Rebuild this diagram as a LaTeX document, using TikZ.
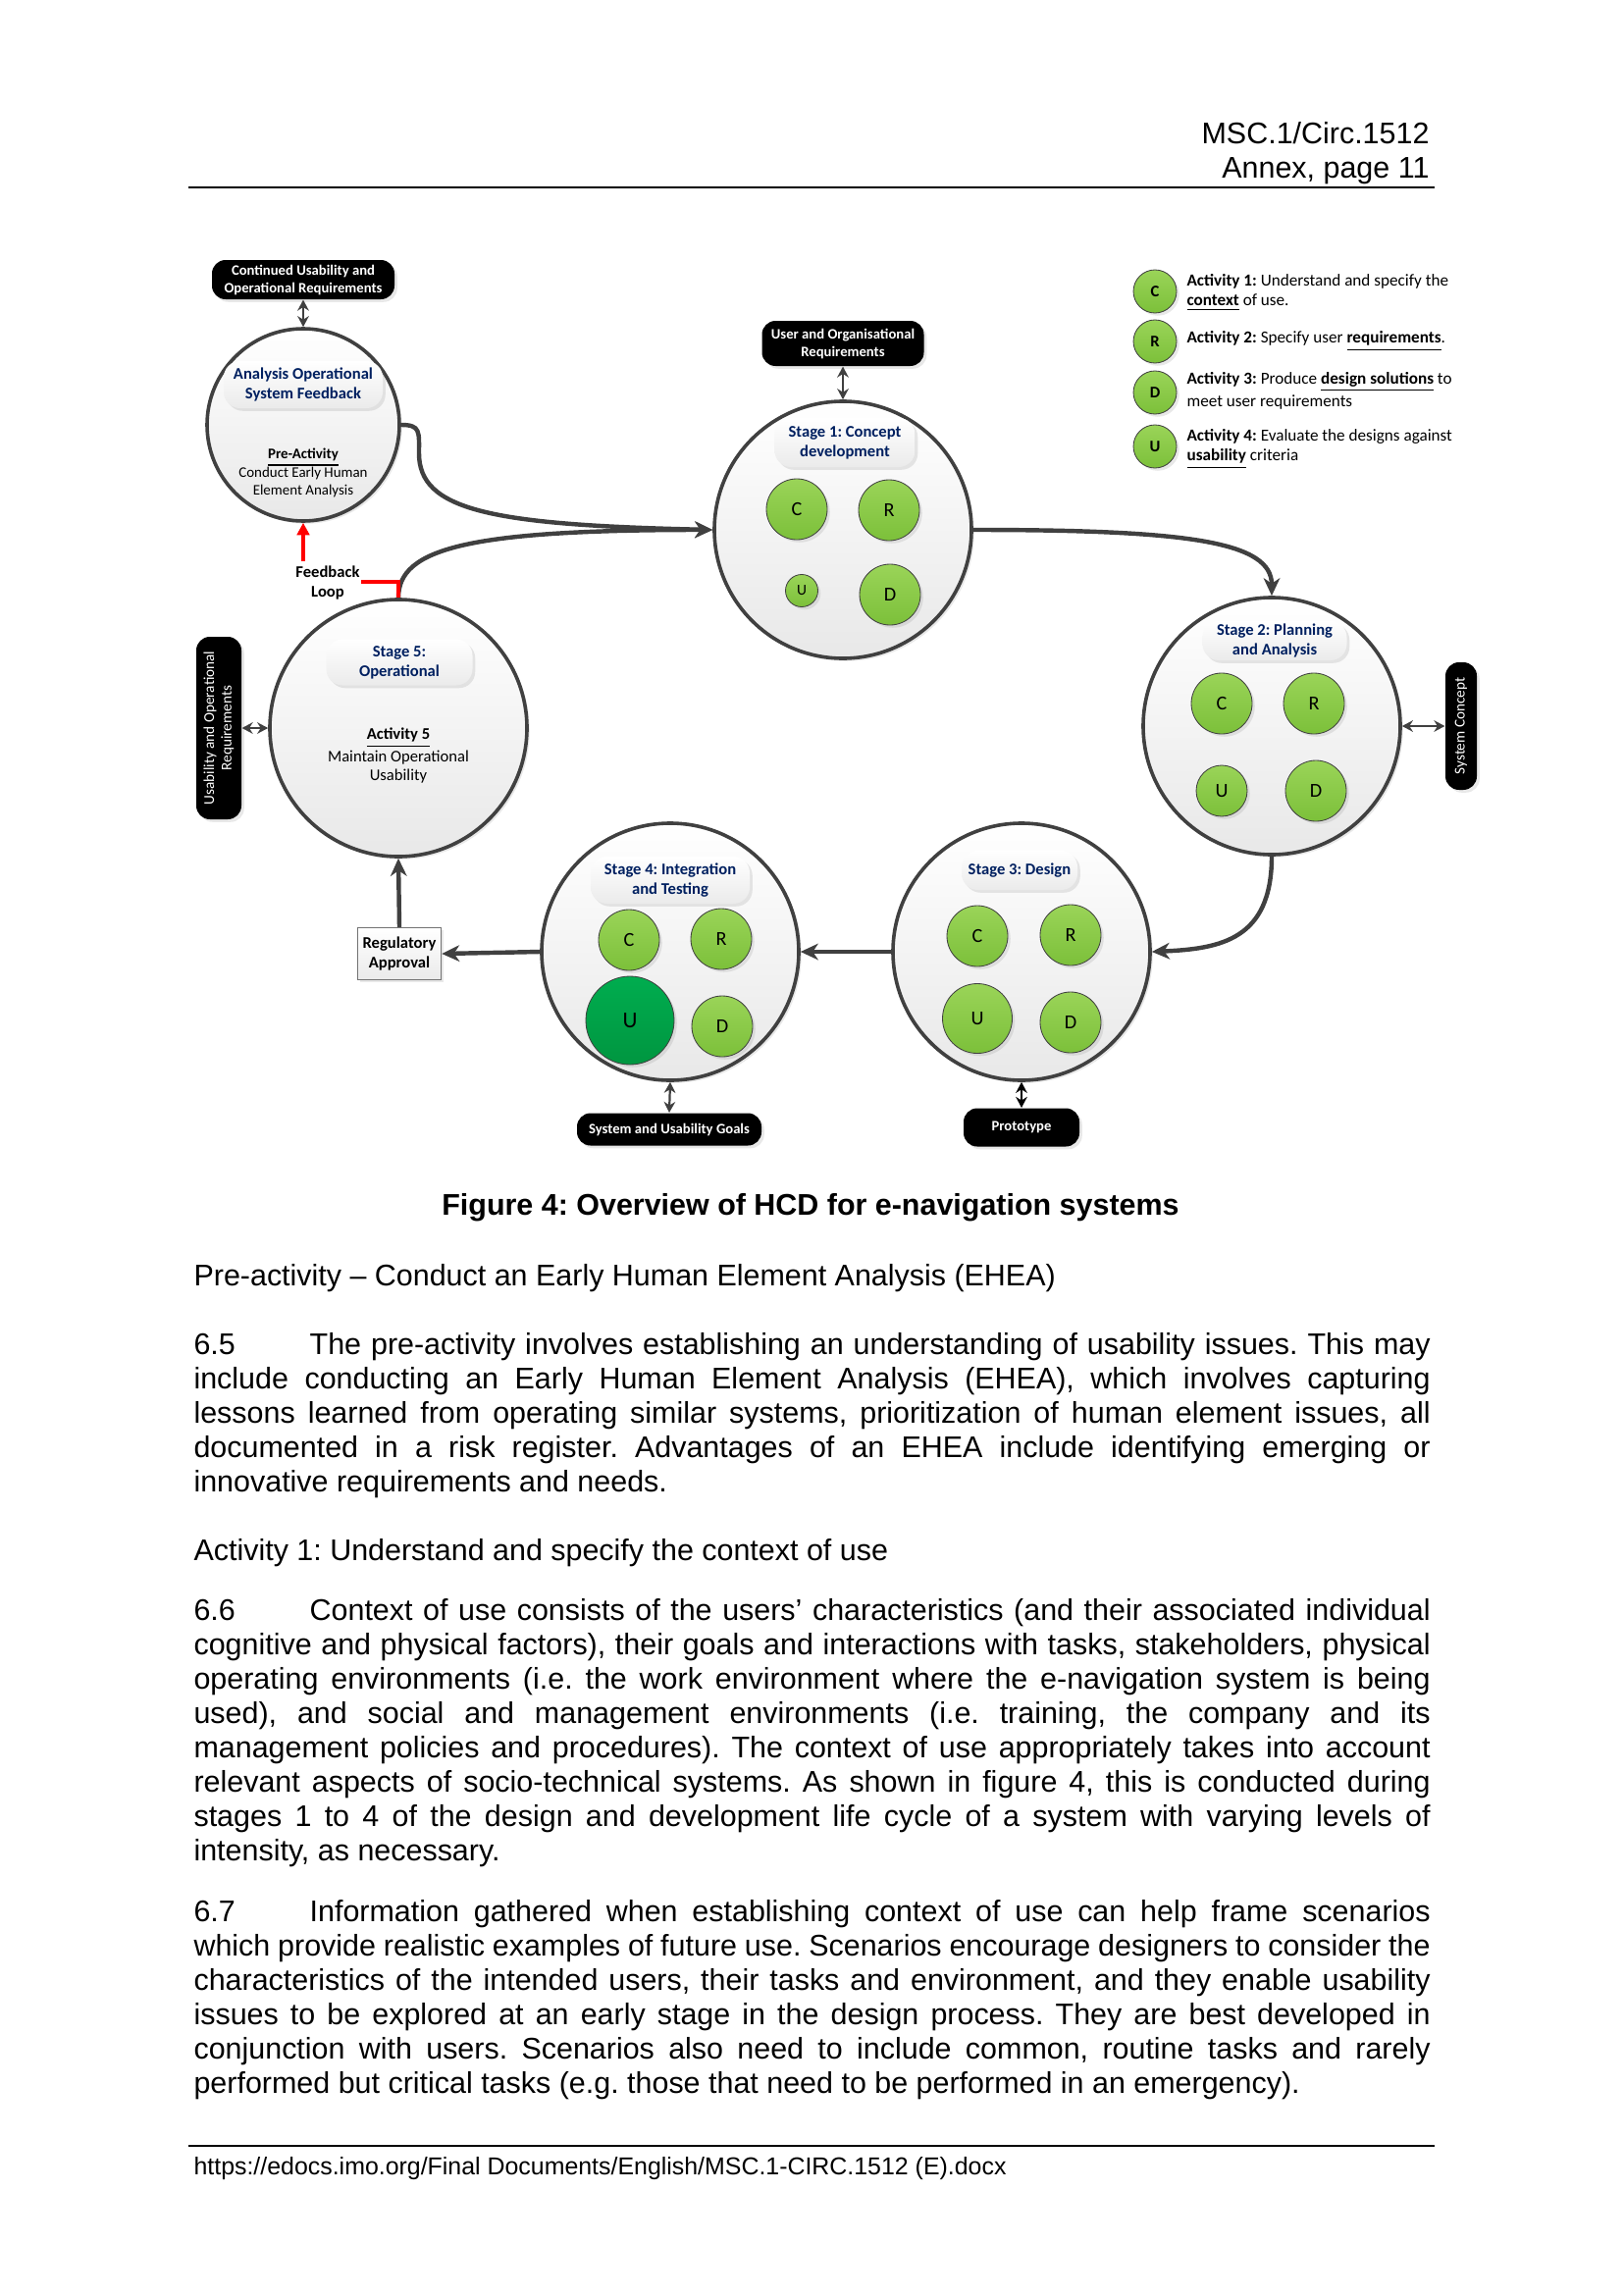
\documentclass[tikz,border=0pt]{standalone}
\usepackage{fontspec}
\setmainfont{Liberation Sans}
\newfontfamily\calibfont{Carlito}
\usepackage{xcolor}
\definecolor{linegray}{HTML}{404040}
\definecolor{stagenavy}{HTML}{002060}
\definecolor{leaftop}{HTML}{9AD458}
\definecolor{leafbot}{HTML}{7CC03A}
\definecolor{deeptop}{HTML}{00AD4F}
\definecolor{deepbot}{HTML}{009640}
\usetikzlibrary{arrows.meta,shadows,positioning}
\frenchspacing

\newcommand{\pxu}[1]{(#1)*0.12697mm}
\newcommand{\bodysize}{\fontsize{11}{12.65}\selectfont}
\newcommand{\titlesize}{\calibfont\bfseries\fontsize{6}{7.2}\selectfont}
\newcommand{\smallsize}{\calibfont\fontsize{5.4}{6.6}\selectfont}
\newcommand{\pillsize}{\calibfont\bfseries\fontsize{5.3}{6.5}\selectfont}
\newcommand{\legendsize}{\calibfont\fontsize{6.2}{7.2}\selectfont}

\tikzset{
  softshadow/.style={drop shadow={opacity=0.18, shadow xshift=1pt, shadow yshift=-1pt}},
  stagecircle/.style={circle, draw=linegray, line width=1.3pt, top color=white,
    bottom color=black!9, minimum size=\pxu{#1}, inner sep=0pt, softshadow},
  leaf/.style={circle, draw=black!75, line width=0.3pt, top color=leaftop,
    bottom color=leafbot, minimum size=\pxu{#1}, inner sep=0pt,
    font=\calibfont\fontsize{7.3}{8}\selectfont, softshadow},
  deepleaf/.style={leaf=#1, top color=deeptop, bottom color=deepbot},
  titlebox/.style 2 args={rounded corners=6pt, top color=white, bottom color=black!8,
    minimum width=\pxu{#1}, minimum height=\pxu{#2}, align=center, text=stagenavy,
    font=\titlesize, inner sep=1pt, softshadow},
  pill/.style={rounded corners=5pt, fill=black, text=white, align=center,
    font=\pillsize, inner sep=1pt, softshadow},
  flowarrow/.style={draw=linegray, line width=1.6pt,
    -{Stealth[length=6.5pt, width=6pt, inset=2pt]}},
  duoarrow/.style={draw=linegray, line width=0.8pt,
    {Stealth[length=4pt, width=4.2pt]}-{Stealth[length=4pt, width=4.2pt]}},
  bodypara/.style={anchor=base west, inner sep=0pt, text width=160mm, align=justify,
    font={\bodysize\hyphenpenalty=10000\exhyphenpenalty=10000\tolerance=9999}},
}

\begin{document}
\begin{tikzpicture}[x=0.12697mm, y=-0.12697mm]
  \useasboundingbox (0,0) rectangle (1654,2339);

  % Page header
  \node[anchor=base east, inner sep=0pt, font=\bodysize] (HeadOne) at (1457,147) {MSC.1/Circ.1512};
  \node[anchor=base east, inner sep=0pt, font=\bodysize] (HeadTwo) at (1457,182) {Annex, page 11};
  \draw[line width=0.6pt] (192,191) -- (1462,191);

  % Pre-activity circle
  \node[stagecircle=196] (PreActivity) at (309,433) {};
  \node[titlebox={162}{48}] (PreTitle) at (309,392) {Analysis Operational\\System Feedback};
  \node[align=center, font=\smallsize] (PreText) at (309,482)
    {\textbf{\underline{Pre-Activity}}\\Conduct Early Human\\Element Analysis};
  \node[pill, minimum width=\pxu{186}, minimum height=\pxu{40}] (ContReq) at (309,285)
    {Continued Usability and\\Operational Requirements};

  % Stage 5
  \node[stagecircle=262] (StageFive) at (406,742) {};
  \node[titlebox={149}{47}] (FiveTitle) at (407,675) {Stage 5:\\Operational};
  \node[align=center, font=\calibfont\fontsize{6}{7}\selectfont] (FiveText) at (406,770)
    {\textbf{\underline{Activity 5}}\\Maintain Operational\\Usability};
  \node[pill, rotate=90, font=\calibfont\fontsize{5.5}{6.4}\selectfont,
    minimum width=\pxu{186}, minimum height=\pxu{46}] (UsabReq) at (223,742)
    {Usability and Operational\\Requirements};

  % Stage 1
  \node[stagecircle=262] (StageOne) at (859,540) {};
  \node[titlebox={143}{50}] (OneTitle) at (861,451) {Stage 1: Concept\\development};
  \node[leaf=62] (OneC) at (812,519) {C};
  \node[leaf=62] (OneR) at (906,520) {R};
  \node[leaf=33, font=\calibfont\fontsize{5.6}{6}\selectfont] (OneU) at (817,602) {U};
  \node[leaf=62] (OneD) at (907,606) {D};
  \node[pill, minimum width=\pxu{165}, minimum height=\pxu{46}] (UserReq) at (859,350)
    {User and Organisational\\Requirements};

  % Stage 2
  \node[stagecircle=262] (StageTwo) at (1296,740) {};
  \node[titlebox={147}{40}] (TwoTitle) at (1299,653) {Stage 2: Planning\\and Analysis};
  \node[leaf=62] (TwoC) at (1245,717) {C};
  \node[leaf=62] (TwoR) at (1339,717) {R};
  \node[leaf=52] (TwoU) at (1245,806) {U};
  \node[leaf=62] (TwoD) at (1341,806) {D};
  \node[pill, rotate=90, font=\calibfont\fontsize{5.5}{6.4}\selectfont,
    minimum width=\pxu{130}, minimum height=\pxu{32}] (SysConcept) at (1489,740) {System Concept};

  % Stage 3
  \node[stagecircle=262] (StageThree) at (1041,970) {};
  \node[titlebox={118}{40}] (ThreeTitle) at (1039,887) {Stage 3: Design};
  \node[leaf=62] (ThreeC) at (996,954) {C};
  \node[leaf=62] (ThreeR) at (1091,953) {R};
  \node[leaf=71] (ThreeU) at (996,1038) {U};
  \node[leaf=62] (ThreeD) at (1091,1042) {D};
  \node[pill, minimum width=\pxu{118}, minimum height=\pxu{39}] (Prototype) at (1041,1149) {Prototype};

  % Stage 4
  \node[stagecircle=262] (StageFour) at (683,970) {};
  \node[titlebox={162}{48}] (FourTitle) at (683,897) {Stage 4: Integration\\and Testing};
  \node[leaf=62] (FourC) at (641,958) {C};
  \node[leaf=62] (FourR) at (735,957) {R};
  \node[deepleaf=90, font=\calibfont\fontsize{8.4}{9}\selectfont] (FourU) at (642,1040) {U};
  \node[leaf=62] (FourD) at (736,1046) {D};
  \node[pill, minimum width=\pxu{188}, minimum height=\pxu{33}] (Goals) at (682,1151)
    {System and Usability Goals};

  % Regulatory approval
  \node[draw=black!55, line width=0.5pt, top color=white, bottom color=black!8, align=center,
    font=\titlesize, text=black, minimum width=\pxu{85}, minimum height=\pxu{53}, inner sep=1pt,
    softshadow] (Regulatory) at (407,972) {Regulatory\\Approval};

  % Main flow
  \coordinate (PreBend) at (427,462);
  \draw[flowarrow] (PreActivity.east) .. controls +(20,0) and +(0,-22) .. (PreBend)
      .. controls +(0,58) and (500,535) .. (StageOne.west);
  \draw[flowarrow] (StageFive.north) .. controls +(0,-50) and +(-250,0) .. (StageOne.west);
  \draw[flowarrow] (StageOne.east) .. controls +(220,0) and +(0,-55) .. (StageTwo.north);
  \draw[flowarrow] (StageTwo.south) .. controls +(0,85) and +(70,-3) .. (StageThree.east);
  \draw[flowarrow] (StageThree.west) -- (StageFour.east);
  \draw[flowarrow] (StageFour.west) -- (Regulatory.east);
  \draw[flowarrow] (Regulatory.north) -- (StageFive.south);

  % Outputs
  \draw[duoarrow] (ContReq.south) -- (PreActivity.north);
  \draw[duoarrow] (UserReq.south) -- (StageOne.north);
  \draw[duoarrow] (StageTwo.east) -- (SysConcept.north);
  \draw[duoarrow, draw=black] (StageThree.south) -- (Prototype.north);
  \draw[duoarrow] (StageFour.south) -- (Goals.north);
  \draw[duoarrow] (UsabReq.south) -- (StageFive.west);

  % Feedback loop
  \node[align=center, font=\calibfont\bfseries\fontsize{6}{7.5}\selectfont] (Feedback) at (334,594) {Feedback\\Loop};
  \coordinate (LoopUp) at (309,572);
  \coordinate (LoopSide) at (368,593);
  \draw[red, line width=1.2pt, -{Triangle[length=4.5pt, width=4.5pt]}] (LoopUp) -- (PreActivity.south);
  \draw[red, line width=1.2pt] (LoopSide) -- (LoopSide -| StageFive.north) -- (StageFive.north);

  % Key
  \foreach \k/\y in {C/297, R/348, D/400, U/455}
    \node[leaf=44, font=\calibfont\bfseries\fontsize{6}{7}\selectfont] (Key\k) at (1177,\y) {\k};
  \node[anchor=west, align=left, inner sep=0pt, font=\legendsize] (KeyCText) at (1209,298)
    {\textbf{Activity 1:} Understand and specify the\\\textbf{\underline{context}} of use.};
  \node[anchor=west, align=left, inner sep=0pt, font=\legendsize] (KeyRText) at (1209,348)
    {\textbf{Activity 2:} Specify user \textbf{\underline{requirements}}.};
  \node[anchor=west, align=left, inner sep=0pt, font=\legendsize] (KeyDText) at (1209,398)
    {\textbf{Activity 3:} Produce \textbf{\underline{design solutions}} to\\meet user requirements};
  \node[anchor=west, align=left, inner sep=0pt, font=\legendsize] (KeyUText) at (1209,458)
    {\textbf{Activity 4:} Evaluate the designs against\\\textbf{\underline{usability}} criteria};

  % Caption and text
  \node[anchor=base, inner sep=0pt, font=\bodysize\bfseries] (Caption) at (826,1238)
    {Figure 4: Overview of HCD for e-navigation systems};
  \node[anchor=base west, inner sep=0pt, font=\bodysize] (PreHead) at (197,1310)
    {Pre-activity -- Conduct an Early Human Element Analysis (EHEA)};
  \node[bodypara] (ParaFive) at (197,1380)
    {\makebox[15mm][l]{6.5}The pre-activity involves establishing an understanding of usability issues. This may\linebreak
     include conducting an Early Human Element Analysis (EHEA), which involves capturing\linebreak
     lessons learned from operating similar systems, prioritization of human element issues, all\linebreak
     documented in a risk register. Advantages of an EHEA include identifying emerging or\linebreak
     innovative requirements and needs.};
  \node[anchor=base west, inner sep=0pt, font=\bodysize] (ActHead) at (197,1590)
    {Activity 1: Understand and specify the context of use};
  \node[bodypara] (ParaSix) at (197,1651)
    {\makebox[15mm][l]{6.6}Context of use consists of the users' characteristics (and their associated individual\linebreak
     cognitive and physical factors), their goals and interactions with tasks, stakeholders, physical\linebreak
     operating environments (i.e. the work environment where the e-navigation system is being\linebreak
     used), and social and management environments (i.e. training, the company and its\linebreak
     management policies and procedures). The context of use appropriately takes into account\linebreak
     relevant aspects of socio-technical systems. As shown in figure 4, this is conducted during\linebreak
     stages 1 to 4 of the design and development life cycle of a system with varying levels of\linebreak
     intensity, as necessary.};
  \node[bodypara] (ParaSeven) at (197,1958)
    {\makebox[15mm][l]{6.7}Information gathered when establishing context of use can help frame scenarios\linebreak
     which provide realistic examples of future use. Scenarios encourage designers to consider the\linebreak
     characteristics of the intended users, their tasks and environment, and they enable usability\linebreak
     issues to be explored at an early stage in the design process. They are best developed in\linebreak
     conjunction with users. Scenarios also need to include common, routine tasks and rarely\linebreak
     performed but critical tasks (e.g. those that need to be performed in an emergency).};

  % Page footer
  \draw[line width=0.6pt] (192,2187) -- (1462,2187);
  \node[anchor=base west, inner sep=0pt, font=\fontsize{9}{10}\selectfont] (Footer) at (197,2216)
    {https://edocs.imo.org/Final Documents/English/MSC.1-CIRC.1512 (E).docx};
\end{tikzpicture}
\end{document}
